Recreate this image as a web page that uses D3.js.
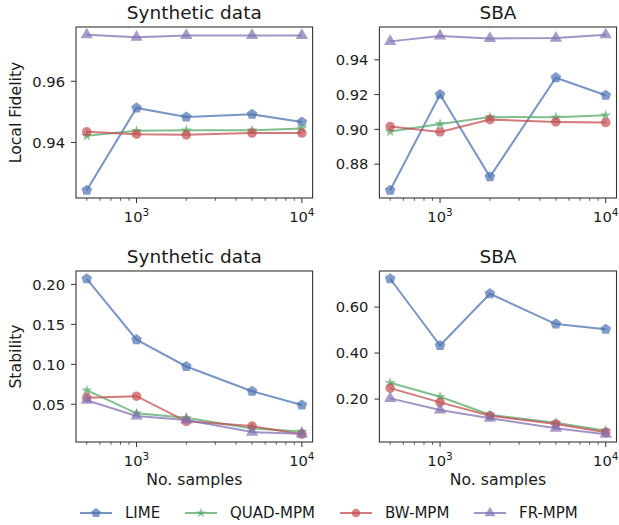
<!DOCTYPE html>
<html><head><meta charset="utf-8">
<script src="https://cdn.jsdelivr.net/npm/d3@7"></script>
<style>body{margin:0;background:#fff}svg{display:block}text{font-family:"DejaVu Sans",sans-serif;fill:#1a1a1a}</style>
</head><body><svg id="c" width="619" height="525"></svg>
<script>
const samples = [500, 1000, 2000, 5000, 10000];
const methods = ["LIME", "QUAD-MPM", "BW-MPM", "FR-MPM"];
const colors = ["#4c72b0", "#55a868", "#c44e52", "#8172b2"];
const markers = ["pentagon", "star", "circle", "triangle"];

const fidSynthetic = {
  "LIME":     [0.9244, 0.9513, 0.9483, 0.9492, 0.9467],
  "QUAD-MPM": [0.9422, 0.9438, 0.9440, 0.9440, 0.9446],
  "BW-MPM":   [0.9435, 0.9427, 0.9425, 0.9431, 0.9431],
  "FR-MPM":   [0.9752, 0.9744, 0.9750, 0.9750, 0.9750]
};
const fidSBA = {
  "LIME":     [0.8650, 0.9200, 0.8727, 0.9297, 0.9196],
  "QUAD-MPM": [0.8988, 0.9031, 0.9071, 0.9069, 0.9081],
  "BW-MPM":   [0.9016, 0.8985, 0.9056, 0.9043, 0.9039],
  "FR-MPM":   [0.9506, 0.9537, 0.9523, 0.9525, 0.9544]
};
const stabSynthetic = {
  "LIME":     [0.2071, 0.1308, 0.0973, 0.0663, 0.0491],
  "QUAD-MPM": [0.0676, 0.0387, 0.0332, 0.0198, 0.0160],
  "BW-MPM":   [0.0583, 0.0601, 0.0286, 0.0227, 0.0125],
  "FR-MPM":   [0.0550, 0.0353, 0.0303, 0.0152, 0.0130]
};
const stabSBA = {
  "LIME":     [0.723, 0.433, 0.658, 0.526, 0.5035],
  "QUAD-MPM": [0.2706, 0.210, 0.132, 0.0974, 0.0628],
  "BW-MPM":   [0.2476, 0.1857, 0.1277, 0.0918, 0.0558],
  "FR-MPM":   [0.203, 0.1524, 0.1165, 0.0732, 0.0472]
};
const ticksFidSyn = [0.94, 0.96];
const ticksFidSBA = [0.88, 0.90, 0.92, 0.94];
const ticksStabSyn = [0.05, 0.10, 0.15, 0.20];
const ticksStabSBA = [0.20, 0.40, 0.60];
const xMajor = [1000, 10000];
const xMinor = [500, 600, 700, 800, 900, 2000, 3000, 4000, 5000, 6000, 7000, 8000, 9000];

const panels = [
  {title: "Synthetic data", data: fidSynthetic, ticks: ticksFidSyn, ylabel: "Local Fidelity", xlabel: null, box: [76, 27, 312.6, 198]},
  {title: "SBA", data: fidSBA, ticks: ticksFidSBA, ylabel: null, xlabel: null, box: [379.4, 27, 616.5, 198]},
  {title: "Synthetic data", data: stabSynthetic, ticks: ticksStabSyn, ylabel: "Stability", xlabel: "No. samples", box: [76, 271, 312.6, 442]},
  {title: "SBA", data: stabSBA, ticks: ticksStabSBA, ylabel: null, xlabel: "No. samples", box: [379.4, 271, 616.5, 442]}
];

const svg = d3.select("#c");

function pentagonPath(r) {
  const pts = d3.range(5).map(i => {
    const a = -Math.PI / 2 + i * 2 * Math.PI / 5;
    return [r * Math.cos(a), r * Math.sin(a)];
  });
  return "M" + pts.map(p => p.join(",")).join("L") + "Z";
}
function markerPath(type, s) {
  s = s || 1;
  if (type === "pentagon") return pentagonPath(5.6 * Math.sqrt(s));
  if (type === "star") return d3.symbol(d3.symbolStar, 38 * s)();
  if (type === "circle") return d3.symbol(d3.symbolCircle, 72 * s)();
  return d3.symbol(d3.symbolTriangle, 66 * s)();
}

const lx0 = Math.log10(samples[0]), lx1 = Math.log10(samples[samples.length - 1]);
const lpad = (lx1 - lx0) * 0.05;

panels.forEach(p => {
  const [x0, y0, x1, y1] = p.box;
  const x = d3.scaleLog().domain([Math.pow(10, lx0 - lpad), Math.pow(10, lx1 + lpad)]).range([x0, x1]);
  const all = methods.flatMap(m => p.data[m]);
  const mn = d3.min(all), mx = d3.max(all), pad = (mx - mn) * 0.05;
  const y = d3.scaleLinear().domain([mn - pad, mx + pad]).range([y1, y0]);
  const g = svg.append("g");

  g.selectAll(".mt").data(xMinor).enter().append("line")
    .attr("x1", d => x(d)).attr("x2", d => x(d)).attr("y1", y1).attr("y2", y1 + 2.8)
    .attr("stroke", "#333").attr("stroke-width", 0.8);
  const xt = g.selectAll(".xt").data(xMajor).enter().append("g").attr("transform", d => `translate(${x(d)},0)`);
  xt.append("line").attr("y1", y1).attr("y2", y1 + 5).attr("stroke", "#333").attr("stroke-width", 1);
  const xtxt = xt.append("text").attr("y", y1 + 24).attr("text-anchor", "middle").style("font-size", "14.7px");
  xtxt.append("tspan").text("10");
  xtxt.append("tspan").attr("dy", -6.5).style("font-size", "10.5px").text(d => Math.round(Math.log10(d)));

  const yt = g.selectAll(".yt").data(p.ticks).enter().append("g").attr("transform", d => `translate(0,${y(d)})`);
  yt.append("line").attr("x1", x0 - 5).attr("x2", x0).attr("stroke", "#333").attr("stroke-width", 1);
  yt.append("text").attr("x", x0 - 11).attr("dy", "0.36em").attr("text-anchor", "end").style("font-size", "14.7px")
    .text(d => d3.format(".2f")(d));

  methods.forEach((m, i) => {
    const vals = p.data[m];
    const line = d3.line().x((d, j) => x(samples[j])).y(d => y(d));
    g.append("path").attr("d", line(vals)).attr("fill", "none").attr("stroke", colors[i])
      .attr("stroke-width", 2).attr("stroke-opacity", 0.75);
    g.selectAll(".m" + i).data(vals).enter().append("path")
      .attr("d", markerPath(markers[i]))
      .attr("transform", (d, j) => `translate(${x(samples[j])},${y(d)})`)
      .attr("fill", colors[i]).attr("fill-opacity", 0.7);
  });

  g.append("rect").attr("x", x0).attr("y", y0).attr("width", x1 - x0).attr("height", y1 - y0)
    .attr("fill", "none").attr("stroke", "#333").attr("stroke-width", 1.1);

  g.append("text").attr("x", (x0 + x1) / 2).attr("y", y0 - 8).attr("text-anchor", "middle")
    .style("font-size", "18.5px").text(p.title);
  if (p.xlabel) g.append("text").attr("x", (x0 + x1) / 2).attr("y", y1 + 43).attr("text-anchor", "middle")
    .style("font-size", "15.7px").text(p.xlabel);
  if (p.ylabel) g.append("text").attr("transform", `translate(21,${(y0 + y1) / 2}) rotate(-90)`)
    .attr("text-anchor", "middle").style("font-size", "15.7px").text(p.ylabel);
});

const legX = [80, 185, 340, 474];
const leg = svg.append("g");
methods.forEach((m, i) => {
  const lg = leg.append("g").attr("transform", `translate(${legX[i]},513)`);
  lg.append("line").attr("x1", 0).attr("x2", 32).attr("stroke", colors[i]).attr("stroke-width", 2).attr("stroke-opacity", 0.75);
  lg.append("path").attr("d", markerPath(markers[i], 0.8)).attr("transform", "translate(16,0)").attr("fill", colors[i]).attr("fill-opacity", 0.7);
  lg.append("text").attr("x", 45).attr("dy", "0.36em").style("font-size", "15px").text(m);
});
</script></body></html>
